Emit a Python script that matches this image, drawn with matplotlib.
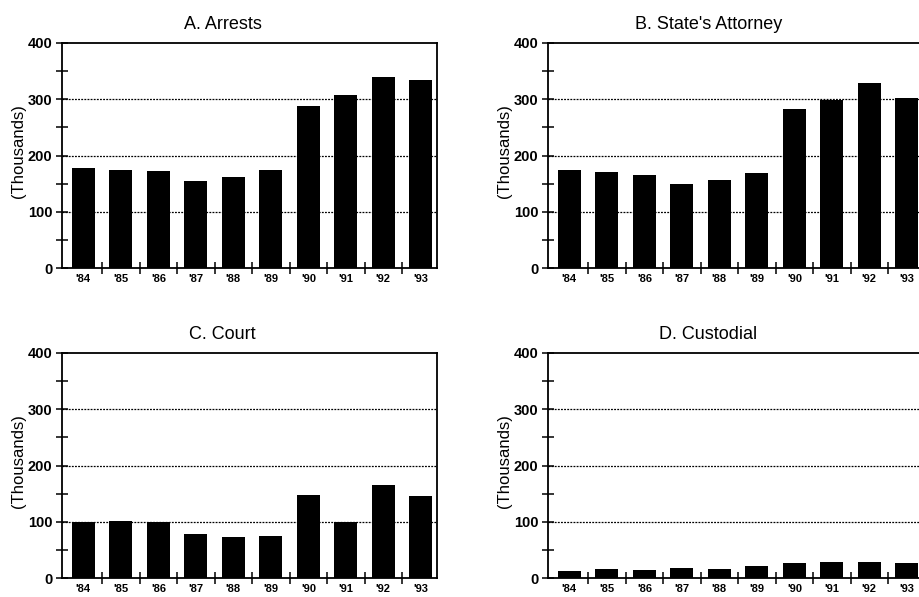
import matplotlib
matplotlib.use("Agg")
import matplotlib.pyplot as plt
import numpy as np

plt.rcParams['font.family'] = ['Liberation Sans', 'DejaVu Sans']

years = ["'84", "'85", "'86", "'87", "'88", "'89", "'90", "'91", "'92", "'93"]
arrests = [177, 175, 173, 155, 162, 175, 288, 307, 339, 335]
states_attorney = [175, 171, 166, 149, 156, 169, 283, 299, 329, 302]
court = [100, 102, 100, 79, 73, 75, 148, 99, 165, 146]
custodial = [12, 16, 15, 18, 16, 21, 27, 28, 29, 27]

titles = ["A. Arrests", "B. State's Attorney", "C. Court", "D. Custodial"]
series = [arrests, states_attorney, court, custodial]

W, H = 919, 597
fig = plt.figure(figsize=(W / 100, H / 100), dpi=100)

# axes rectangles in pixels: left, top, right, bottom
rects = [(62, 43, 437, 268), (548, 43, 923, 268),
         (62, 353, 437, 578), (548, 353, 923, 578)]

x = np.arange(len(years))
for (l, t, r, b), title, vals in zip(rects, titles, series):
    ax = fig.add_axes([l / W, 1 - b / H, (r - l) / W, (b - t) / H])
    ax.bar(x, vals, width=0.61, color='black', zorder=3)
    ax.set_xlim(-0.57, 9.43)
    ax.set_ylim(0, 400)
    for yv in (100, 200, 300):
        ax.axhline(yv, color='black', lw=0.9, ls=(0, (1.5, 1)), zorder=1)
    ax.set_yticks([0, 100, 200, 300, 400])
    ax.set_yticks([50, 150, 250, 350], minor=True)
    ax.set_xticks(x)
    ax.set_xticks(x[:-1] + 0.5, minor=True)
    ax.set_xticklabels(years, fontsize=8, fontweight='bold')
    ax.set_yticklabels(['0', '100', '200', '300', '400'], fontsize=10.5, fontweight='bold')
    ax.tick_params(axis='x', which='major', length=0, pad=4)
    ax.tick_params(axis='x', which='minor', direction='inout', length=9, width=1.1)
    ax.tick_params(axis='y', which='both', direction='inout', length=8, width=1.1, pad=3)
    for s in ax.spines.values():
        s.set_linewidth(1.3)
    ax.set_ylabel('(Thousands)', fontsize=12)
    ax.yaxis.set_label_coords(-0.095, 0.52)
    ax.set_title(title, fontsize=13, pad=10, x=0.428)

fig.savefig('out.png', dpi=100)
